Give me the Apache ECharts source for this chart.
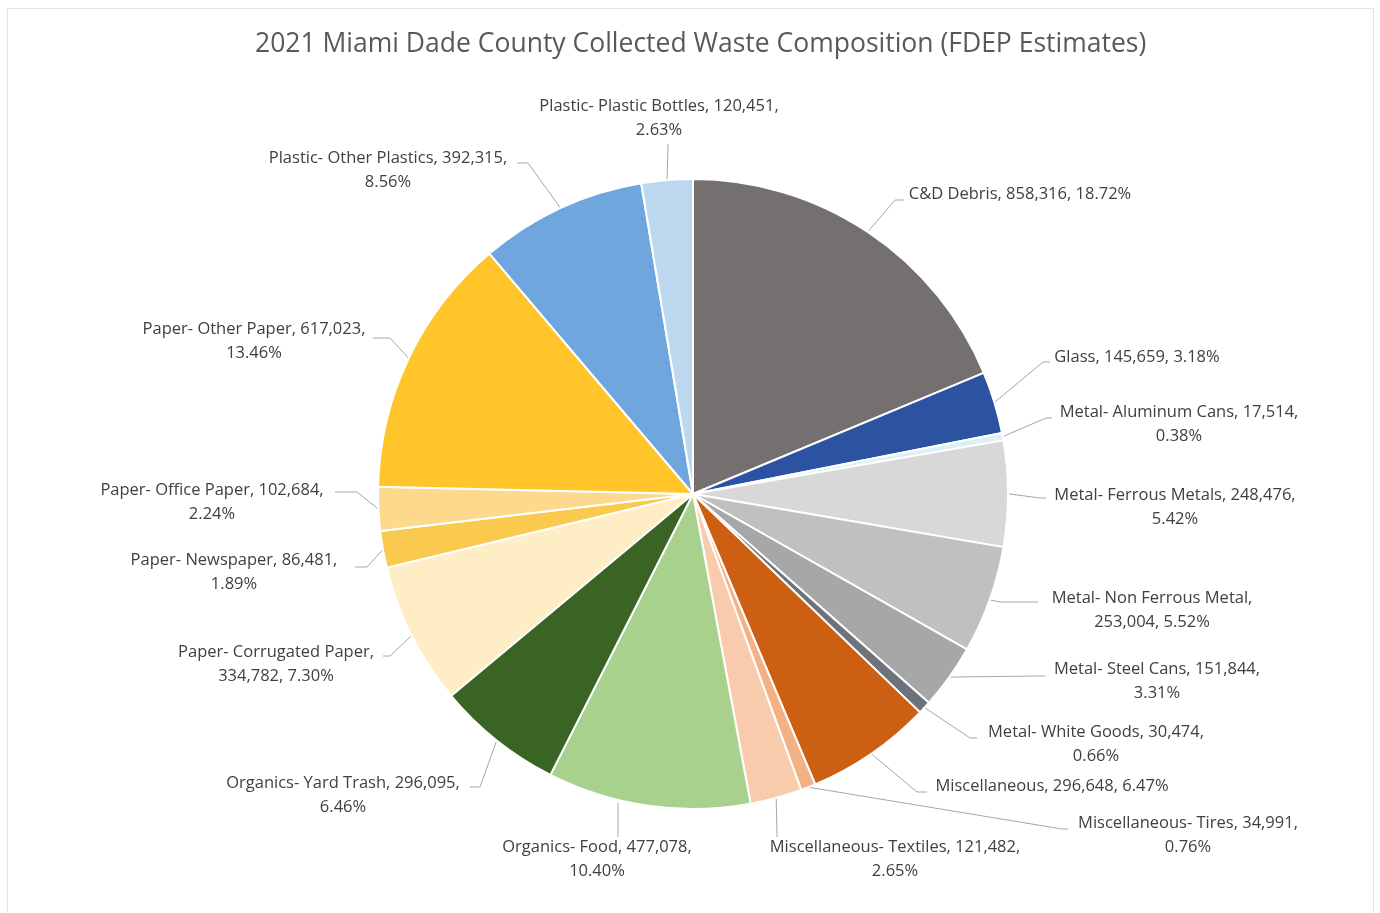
<!DOCTYPE html>
<html><head><meta charset="utf-8">
<script src="https://cdn.jsdelivr.net/npm/echarts@6/dist/echarts.min.js"></script>
<style>html,body{margin:0;padding:0;background:#fff}#c{width:1380px;height:913px}</style>
</head><body><div id="c"></div>
<script>
const titleText = '2021 Miami Dade County Collected Waste Composition (FDEP Estimates)';
const categories = [
  'C&D Debris', 'Glass', 'Metal- Aluminum Cans', 'Metal- Ferrous Metals',
  'Metal- Non Ferrous Metal', 'Metal- Steel Cans', 'Metal- White Goods',
  'Miscellaneous', 'Miscellaneous- Tires', 'Miscellaneous- Textiles',
  'Organics- Food', 'Organics- Yard Trash', 'Paper- Corrugated Paper',
  'Paper- Newspaper', 'Paper- Office Paper', 'Paper- Other Paper',
  'Plastic- Other Plastics', 'Plastic- Plastic Bottles'
];
const values = [
  858316, 145659, 17514, 248476, 253004, 151844, 30474, 296648, 34991,
  121482, 477078, 296095, 334782, 86481, 102684, 617023, 392315, 120451
];
const colors = [
  '#74706F', '#2C53A1', '#DDEFF7', '#D8D8D8', '#C0C0C0', '#A7A7A7', '#6D737B',
  '#CD5F12', '#F4B183', '#F8CBAD', '#A9D18E', '#3A6423', '#FFEDC6', '#F9CA4E',
  '#FCD98C', '#FFC52A', '#6FA6DE', '#BDD7EE'
];
// label layout (text block top-centre, leader elbow & end)
const labelWrap = ['none','none','pct','pct','name','pct','pct','none','pct','pct','pct','pct','name','pct','pct','pct','pct','pct'];
const labelBox = [
  [1020,182],[1137,345],[1179,400],[1175,483],[1152,586],[1157,657],[1096,720],
  [1052,774],[1188,811],[895,835],[597,835],[343,771],[276,640],[234,548],
  [212,478],[254,317],[388,146],[659,94]
];
const labelElbow = [
  [[895,200],[904,200]],[[1043,362],[1050,362]],[[1046,418],[1052,418]],
  [[1040,498],[1046,498]],[[1000,602],[1038,602]],[[1040,676],[1045,676]],
  [[970,738],[977,738]],[[917,792],[927,792]],[[1062,829],[1068,829]],
  [[777,836],[777,837]],[[618,836],[618,837]],[[480,787],[470,787]],
  [[390,656],[383,656]],[[367,567],[355,567]],[[357,492],[335,492]],
  [[390,338],[373,338]],[[528,163],[517,163]],[[668,145],[668,144]]
];
const labelStart = {10: [618, 803]};

const total = values.reduce((a, b) => a + b, 0);
function fmtLabel(i) {
  const n = categories[i];
  const v = values[i].toLocaleString('en-US');
  const p = (values[i] / total * 100).toFixed(2) + '%';
  const w = labelWrap[i];
  if (w === 'none') return n + ', ' + v + ', ' + p;
  if (w === 'name') return n + ',\n' + v + ', ' + p;
  return n + ', ' + v + ',\n' + p;
}

const chart = echarts.init(document.getElementById('c'), null, {renderer: 'canvas'});
chart.setOption({
  backgroundColor: '#fff',
  animation: false,
  graphic: [{
    type: 'rect', shape: {x: 7.5, y: 8.5, width: 1366, height: 910},
    style: {fill: 'none', stroke: '#E3E3E3', lineWidth: 1}, silent: true
  }],
  title: {
    text: titleText, left: 250, top: 26,
    textStyle: {fontFamily: 'Open Sans', fontSize: 26.5, fontWeight: 'normal', color: '#595959'}
  },
  series: [{
    type: 'pie',
    center: [693, 494],
    radius: 315,
    startAngle: 90,
    clockwise: true,
    avoidLabelOverlap: false,
    itemStyle: {borderColor: '#fff', borderWidth: 2},
    label: {
      show: true, position: 'outside',
      formatter: p => fmtLabel(p.dataIndex),
      fontFamily: 'Open Sans', fontSize: 16.5, color: '#404040',
      lineHeight: 24, align: 'center'
    },
    labelLine: {show: true, length: 10, length2: 10, lineStyle: {color: '#A6A6A6', width: 1}},
    labelLayout: function (params) {
      const i = params.dataIndex;
      const s = labelStart[i] || (params.labelLinePoints ? params.labelLinePoints[0] : labelElbow[i][0]);
      return {
        x: labelBox[i][0], y: labelBox[i][1],
        align: 'center', verticalAlign: 'top',
        labelLinePoints: [s, labelElbow[i][0], labelElbow[i][1]]
      };
    },
    data: categories.map((c, i) => ({name: c, value: values[i], itemStyle: {color: colors[i]}}))
  }]
});
</script>
</body></html>
